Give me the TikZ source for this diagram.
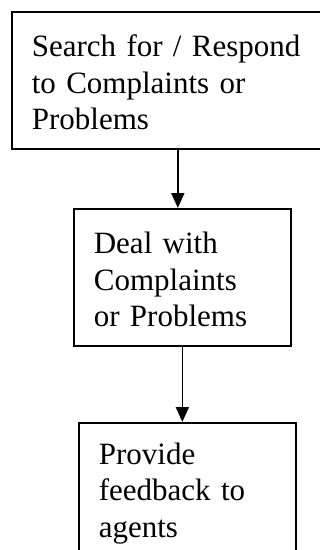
\documentclass[tikz,border=0pt]{standalone}
\usepackage{fontspec}
\setmainfont{Liberation Serif}
\usetikzlibrary{arrows.meta,positioning}
\tikzset{
  stepbox/.style={
    draw=black, line width=1.7pt, rectangle, anchor=north west,
    align=left, inner xsep=20pt, inner ysep=15pt, text width=#1,
    minimum height=137pt, font=\fontsize{31}{36.8}\selectfont
  },
  flowarrow/.style={line width=1.7pt, ->}
}
\begin{document}
\begin{tikzpicture}[x=1pt,y=-1pt,>={Triangle[length=15pt,width=13pt]}]
  \useasboundingbox (0,0) rectangle (320,550);
  \clip (0,0) rectangle (320,550);
  \node[stepbox=292pt] (search) at (11,11) {\strut Search for / Respond\\to Complaints or\\Problems};
  \node[stepbox=177pt] (deal) at (73,208) {\strut Deal with\\Complaints\\or Problems};
  \node[stepbox=177pt] (provide) at (78,422) {\strut Provide\\feedback to\\agents};
  \draw[flowarrow] (search.south) -- (search.south |- deal.north);
  \draw[flowarrow] (deal.south) -- (deal.south |- provide.north);
\end{tikzpicture}
\end{document}
